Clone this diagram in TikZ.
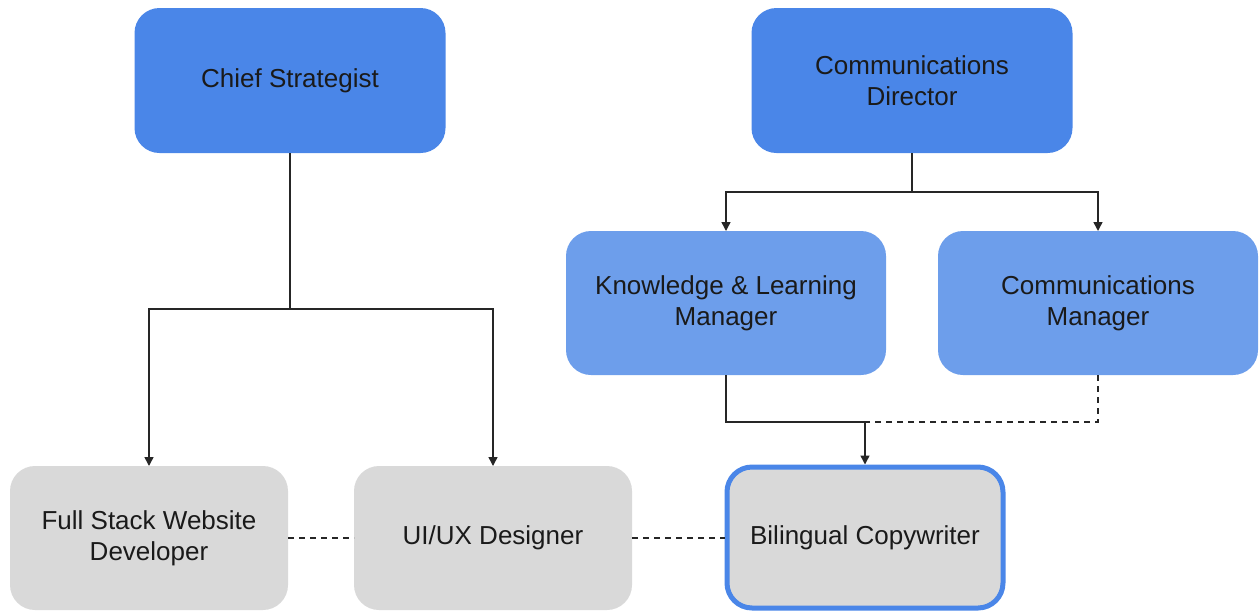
\documentclass[tikz,border=0pt]{standalone}
\usepackage{fontspec}
\setmainfont{Liberation Sans}
\usetikzlibrary{arrows.meta}
\definecolor{topblue}{HTML}{4A86E8}
\definecolor{midblue}{HTML}{6D9EEB}
\definecolor{boxgray}{HTML}{D9D9D9}
\definecolor{txt}{HTML}{1A1A1A}
\begin{document}
\begin{tikzpicture}[x=0.5pt,y=-0.5pt,
  box/.style={rounded corners=12.5pt, inner sep=0pt, outer sep=0pt, align=center,
    text=txt, font=\fontsize{13}{15.5}\selectfont},
  topbox/.style={box, fill=topblue, minimum width=#1, minimum height=72.5pt},
  midbox/.style={box, fill=midblue, minimum width=160pt, minimum height=72pt},
  graybox/.style={box, fill=boxgray, minimum width=139pt, minimum height=72pt},
  conn/.style={draw=black!85, line width=0.75pt},
  arr/.style={conn, -{Triangle[length=4.5pt,width=4.5pt]}},
  dconn/.style={conn, dash pattern=on 3pt off 2.5pt}]
\useasboundingbox (0,0) rectangle (1259,612);
\node[topbox=155.5pt] (cs) at (290,80.5) {Chief Strategist};
\node[topbox=160.5pt] (cd) at (912,80.5) {Communications\\Director};
\node[midbox] (kl) at (726,303) {Knowledge \& Learning\\Manager};
\node[midbox] (cm) at (1098,303) {Communications\\Manager};
\node[graybox] (fs) at (149,538) {Full Stack Website\\Developer};
\node[graybox] (ux) at (493,538) {UI/UX Designer};
\node[box, fill=boxgray, draw=topblue, line width=2.5pt, minimum width=138pt, minimum height=70.5pt, outer sep=1.25pt] (bc) at (865,537.5) {Bilingual Copywriter};
\coordinate (j1) at (290,309);
\coordinate (j2) at (912,192);
\coordinate (j3) at (865,422);
\draw[conn] (cs.south) -- (j1);
\draw[arr] (j1) -| (fs.north);
\draw[arr] (j1) -| (ux.north);
\draw[conn] (cd.south) -- (j2);
\draw[arr] (j2) -| (kl.north);
\draw[arr] (j2) -| (cm.north);
\draw[conn] (kl.south) |- (j3);
\draw[dconn] (cm.south) |- (j3);
\draw[arr] (j3) -- (bc.north);
\draw[dconn] (fs.east) -- (ux.west);
\draw[dconn] (ux.east) -- (ux.east -| bc.west);
\end{tikzpicture}
\end{document}
